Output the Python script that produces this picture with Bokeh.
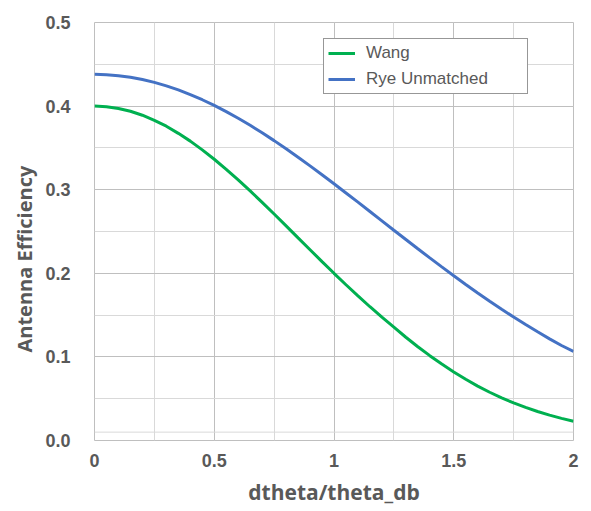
from bokeh.plotting import figure
from bokeh.models import (Range1d, SingleIntervalTicker, Legend, LegendItem,
                          Title, Span, ColumnDataSource)
from bokeh.embed import file_html
from bokeh.resources import INLINE

# ---- data ----
x_vals = [0.00, 0.05, 0.10, 0.15, 0.20, 0.25, 0.30, 0.35, 0.40, 0.45, 0.50,
          0.55, 0.60, 0.65, 0.70, 0.75, 0.80, 0.85, 0.90, 0.95, 1.00,
          1.05, 1.10, 1.15, 1.20, 1.25, 1.30, 1.35, 1.40, 1.45, 1.50,
          1.55, 1.60, 1.65, 1.70, 1.75, 1.80, 1.85, 1.90, 1.95, 2.00]
wang = [0.4000, 0.3993, 0.3972, 0.3938, 0.3891, 0.3830, 0.3760, 0.3674, 0.3581, 0.3476, 0.3364,
        0.3244, 0.3117, 0.2985, 0.2848, 0.2709, 0.2567, 0.2424, 0.2282, 0.2140, 0.2000,
        0.1863, 0.1730, 0.1600, 0.1475, 0.1355, 0.1235, 0.1122, 0.1015, 0.0915, 0.0820,
        0.0732, 0.0651, 0.0577, 0.0510, 0.0450, 0.0396, 0.0347, 0.0303, 0.0265, 0.0231]
rye_unmatched = [0.4380, 0.4376, 0.4364, 0.4345, 0.4318, 0.4284, 0.4242, 0.4194, 0.4138, 0.4076, 0.4008,
                 0.3934, 0.3854, 0.3770, 0.3681, 0.3587, 0.3490, 0.3389, 0.3285, 0.3179, 0.3071,
                 0.2961, 0.2851, 0.2739, 0.2627, 0.2515, 0.2404, 0.2293, 0.2184, 0.2077, 0.1971,
                 0.1867, 0.1765, 0.1666, 0.1570, 0.1477, 0.1387, 0.1300, 0.1216, 0.1136, 0.1065]
series_names = ["Wang", "Rye Unmatched"]
x_ticks = [0, 0.5, 1, 1.5, 2]
x_tick_labels = ["0", "0.5", "1", "1.5", "2"]
y_ticks = [0, 0.1, 0.2, 0.3, 0.4, 0.5]
y_tick_labels = ["0.0", "0.1", "0.2", "0.3", "0.4", "0.5"]
x_title = "dtheta/theta_db"
y_title = "Antenna Efficiency"

GREEN = "#00B050"
BLUE = "#4472C4"
TXT = "#595959"
FONT = "Liberation Sans"
TFONT = "Open Sans"

p = figure(width=591, height=511,
           x_range=Range1d(0, 2), y_range=Range1d(0, 0.5),
           output_backend="svg", toolbar_location=None,
           min_border_left=94, min_border_right=18,
           min_border_top=22, min_border_bottom=71)

p.background_fill_color = "white"
p.border_fill_color = "white"
p.outline_line_color = "#BFBFBF"
p.outline_line_width = 1

# axes
p.xaxis.ticker = SingleIntervalTicker(interval=0.5, num_minor_ticks=2)
p.yaxis.ticker = SingleIntervalTicker(interval=0.1, num_minor_ticks=2)
p.xaxis.major_label_overrides = {t: l for t, l in zip(x_ticks, x_tick_labels)}
p.yaxis.major_label_overrides = {t: l for t, l in zip(y_ticks, y_tick_labels)}
for ax in (p.xaxis, p.yaxis):
    ax.axis_line_color = None
    ax.major_tick_line_color = None
    ax.minor_tick_line_color = None
    ax.major_label_text_font = FONT
    ax.major_label_text_font_style = "bold"
    ax.major_label_text_font_size = "18px"
    ax.major_label_text_color = TXT
p.xaxis.major_label_standoff = 7
p.yaxis.major_label_standoff = 18

p.xaxis.axis_label = x_title
p.xaxis.axis_label_text_font = TFONT
p.xaxis.axis_label_text_font_style = "bold"
p.xaxis.axis_label_text_font_size = "21px"
p.xaxis.axis_label_text_color = TXT
p.xaxis.axis_label_standoff = 8

# y-axis title as a side title (allows an offset along the axis)
ytitle = Title(text=y_title, align="left", offset=88, standoff=10,
               text_font=TFONT, text_font_style="bold",
               text_font_size="20px", text_color=TXT)
p.add_layout(ytitle, "left")

# grid
p.xgrid.grid_line_color = "#BFBFBF"
p.ygrid.grid_line_color = "#BFBFBF"
p.xgrid.minor_grid_line_color = "#D9D9D9"
p.ygrid.minor_grid_line_color = "#D9D9D9"
p.add_layout(Span(location=0.01, dimension="width", line_color="#D9D9D9", line_width=1))

src = ColumnDataSource(dict(x=x_vals, wang=wang, rye=rye_unmatched))
r1 = p.line("x", "wang", source=src, line_color=GREEN, line_width=3)
r2 = p.line("x", "rye", source=src, line_color=BLUE, line_width=3)

legend = Legend(items=[LegendItem(label=series_names[0], renderers=[r1]),
                       LegendItem(label=series_names[1], renderers=[r2])],
                location=(229, 346))
legend.border_line_color = "#303030"
legend.border_line_width = 1
legend.background_fill_color = "white"
legend.background_fill_alpha = 1
legend.label_text_font = FONT
legend.label_text_font_size = "17px"
legend.label_text_color = TXT
legend.glyph_width = 27
legend.glyph_height = 18
legend.label_height = 18
legend.label_standoff = 11
legend.padding = 4
legend.spacing = 6
legend.margin = 0
legend.label_width = 157
p.add_layout(legend, "center")

open("out.html", "w").write(file_html(p, INLINE))
